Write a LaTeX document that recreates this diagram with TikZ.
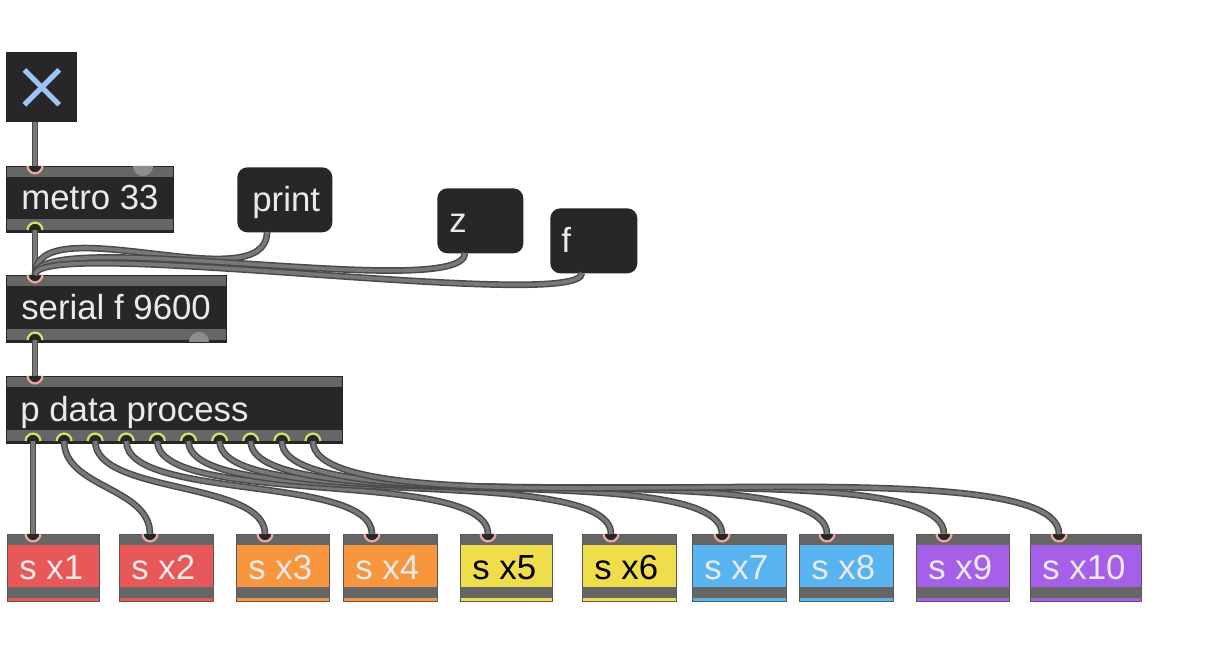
\documentclass[tikz,border=0pt]{standalone}
\usepackage{fontspec}
\setmainfont{Liberation Sans}

\definecolor{boxDark}{HTML}{272727}
\definecolor{stripGray}{HTML}{666666}
\definecolor{knobGray}{HTML}{8E8E8E}
\definecolor{inletPink}{HTML}{EBA79E}
\definecolor{outletGreen}{HTML}{D4DE6C}
\definecolor{cableEdge}{HTML}{4A4A4A}
\definecolor{cableCore}{HTML}{787878}
\definecolor{toggleBlue}{HTML}{9EC3F7}
\definecolor{textLight}{HTML}{EAEAEA}
\definecolor{sRed}{HTML}{E85858}
\definecolor{sOrange}{HTML}{F7963C}
\definecolor{sYellow}{HTML}{F0DD4B}
\definecolor{sBlue}{HTML}{58B4F0}
\definecolor{sPurple}{HTML}{A55FE8}

\tikzset{
	objbox/.style={draw=black!85, fill=boxDark, anchor=north west, inner sep=0pt, minimum height=1.34cm,
		path picture={
			\fill[stripGray] (path picture bounding box.north west) rectangle ([yshift=-6.2pt]path picture bounding box.north east);
			\fill[stripGray] ([yshift=1.1pt]path picture bounding box.south west) rectangle ([yshift=7.4pt]path picture bounding box.south east);
		}},
	msgbox/.style={fill=boxDark, rounded corners=5.7pt, anchor=north west, inner sep=0pt, minimum height=1.30cm},
	sbox/.style={draw=black!65, fill=#1, anchor=north west, inner sep=0pt, minimum height=1.34cm,
		path picture={
			\fill[stripGray] (path picture bounding box.north west) rectangle ([yshift=-6.2pt]path picture bounding box.north east);
			\fill[stripGray] ([yshift=1.7pt]path picture bounding box.south west) rectangle ([yshift=7.9pt]path picture bounding box.south east);
		}},
	lbl/.style={text=textLight, inner sep=0pt, anchor=base west, font=\fontsize{19.8}{24}\selectfont},
	inlet/.style={fill=boxDark, draw=inletPink, line width=1.3pt},
	outlet/.style={fill=boxDark, draw=outletGreen, line width=1.3pt},
	cable/.style={draw=cableEdge, double=cableCore, double distance=2.1pt, line width=0.85pt}
}

\begin{document}
\begin{tikzpicture}[x=0.02cm, y=-0.02cm]
	
	\fill[white, use as bounding box] (0,0) rectangle (1205,661);
	
	% ---- Toggle ----
	\node[fill=boxDark, anchor=north west, inner sep=0pt, minimum width=1.42cm, minimum height=1.40cm] (toggle) at (6,52) {};
	\draw[toggleBlue, line width=3pt] ([shift={(-9.9pt,9.9pt)}]toggle.center) -- ([shift={(9.9pt,-9.9pt)}]toggle.center);
	\draw[toggleBlue, line width=3pt] ([shift={(-9.9pt,-9.9pt)}]toggle.center) -- ([shift={(9.9pt,9.9pt)}]toggle.center);
	
	% ---- Objects ----
	\node[objbox, minimum width=3.34cm, minimum height=1.32cm] (metro) at (6,166) {};
	\node[objbox, minimum width=4.40cm] (serial) at (6,275) {};
	\node[objbox, minimum width=6.72cm] (proc) at (6,376) {};
	\fill[knobGray] (133,166) arc[start angle=180, end angle=360, radius=5.7pt];
	\fill[knobGray] (189,342) arc[start angle=180, end angle=0, radius=5.7pt];
	
	% ---- Messages ----
	\node[msgbox, minimum width=1.90cm] (print) at (237,167) {};
	\node[msgbox, minimum width=1.72cm] (zMsg) at (437,188) {};
	\node[msgbox, minimum width=1.74cm] (fMsg) at (550,208) {};
	
	% ---- Texts ----
	\node[lbl] (metroText) at (21,210) {metro 33};
	\node[lbl] (printText) at (252,212) {print};
	\node[lbl] (zText) at (449,233) {z};
	\node[lbl] (fText) at (561,253) {f};
	\node[lbl] (serialText) at (21,320) {serial f 9600};
	\node[lbl] (procText) at (20,422) {p data process};
	
	% ---- Inlets and outlets ----
	\foreach \name/\ix/\iy in {metroIn/35/166, serialIn/35/275, procIn/35/376}
	{
		\coordinate (\name) at (\ix,\iy);
		\filldraw[inlet] ([xshift=-4.2pt]\name) arc[start angle=180, end angle=360, radius=4.2pt];
	}
	\foreach \name/\ox/\oy in {metroOut/35/230, serialOut/35/340}
	{
		\coordinate (\name) at (\ox,\oy);
		\filldraw[outlet] ([xshift=-4.2pt]\name) arc[start angle=180, end angle=0, radius=4.2pt];
	}
	\coordinate (toggleOut) at (35,122);
	\coordinate (printOut) at (267,232);
	\coordinate (zOut) at (465,253);
	\coordinate (fOut) at (582,273);
	
	% ---- Send boxes ----
	\foreach \k/\lx/\w/\col/\tc/\ix in {
		1/7/1.84/sRed/textLight/33,
		2/119/1.88/sRed/textLight/150,
		3/236/1.86/sOrange/textLight/265,
		4/343/1.88/sOrange/textLight/372,
		5/460/1.84/sYellow/black/488,
		6/582/1.88/sYellow/black/611,
		7/692/1.88/sBlue/textLight/722,
		8/799/1.88/sBlue/textLight/827,
		9/916/1.86/sPurple/textLight/944,
		10/1030/2.22/sPurple/textLight/1059
	}
	{
		\node[sbox=\col, minimum width=\w cm] (s\k) at (\lx,534) {};
		\node[lbl, text=\tc] (sText\k) at (\lx+12,580) {s x\k};
		\coordinate (sIn\k) at (\ix,534);
		\filldraw[inlet] ([xshift=-4.2pt]sIn\k) arc[start angle=180, end angle=360, radius=4.2pt];
		\pgfmathsetmacro{\ox}{33+31.1*(\k-1)}
		\coordinate (pOut\k) at (\ox,441);
		\filldraw[outlet] ([xshift=-4.2pt]pOut\k) arc[start angle=180, end angle=0, radius=4.2pt];
	}
	
	% ---- Cables ----
	\draw[cable] (toggleOut) -- (metroIn);
	\draw[cable] (metroOut) -- (serialIn);
	\draw[cable] (serialOut) -- (procIn);
	\foreach \src/\c in {printOut/70, zOut/50, fOut/40}
	\draw[cable] (\src) .. controls +(0,\c) and +(0,-\c) .. (serialIn);
	
	\draw[cable] (pOut1) -- (sIn1);
	\foreach \k/\ix in {2/150, 3/265, 4/372, 5/488, 6/611, 7/722, 8/827, 9/944, 10/1059}
	{
		\pgfmathsetmacro{\c}{40+0.08*(\ix-33-31.1*(\k-1))}
		\draw[cable] (pOut\k) .. controls +(0,\c) and +(0,-\c) .. (sIn\k);
	}
	
\end{tikzpicture}
\end{document}
